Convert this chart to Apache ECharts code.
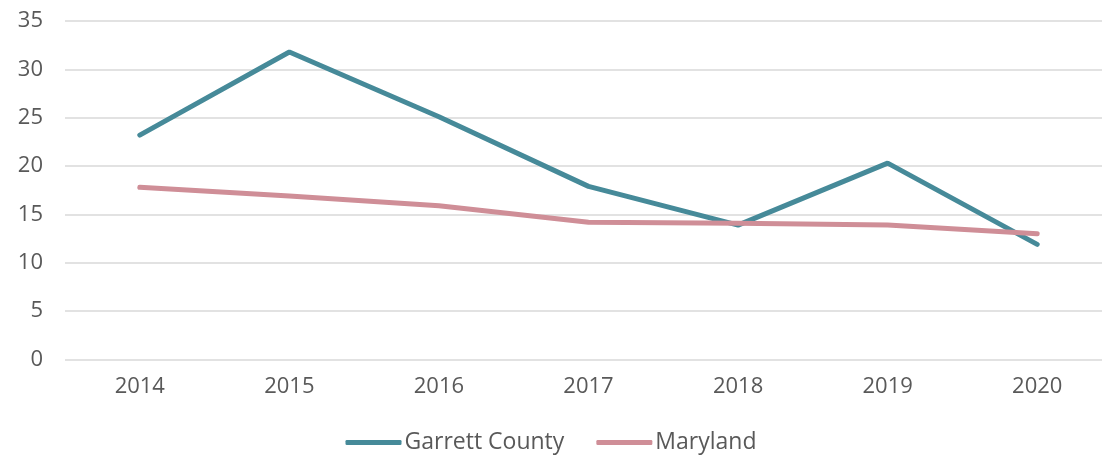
<!DOCTYPE html>
<html>
<head>
<meta charset="utf-8">
<script src="https://cdn.jsdelivr.net/npm/echarts@6/dist/echarts.min.js"></script>
<style>
  html, body { margin: 0; padding: 0; background: #fff; overflow: hidden; }
  #chart { width: 1102px; height: 456px; }
</style>
</head>
<body>
<div id="chart"></div>
<script>
// Garrett County vs Maryland, 2014–2020
const years = ['2014', '2015', '2016', '2017', '2018', '2019', '2020'];
const garrett = [23.2, 31.8, 25.1, 17.9, 13.9, 20.3, 11.9];
const maryland = [17.8, 16.9, 15.9, 14.2, 14.1, 13.9, 13.0];

const FONT = '"Open Sans", "Noto Sans", sans-serif';
const TEXT = '#595959';

const chart = echarts.init(document.getElementById('chart'));

chart.setOption({
  animation: false,
  grid: {
    left: 65, width: 1047, top: 21, height: 338.5,
    containLabel: false, outerBoundsMode: 'none',
  },
  legend: {
    bottom: -3,
    left: 'center',
    itemWidth: 56,
    itemHeight: 5,
    itemGap: 32,
    icon: 'roundRect',
    textStyle: { color: TEXT, fontFamily: FONT, fontSize: 23, padding: [0, 0, 0, -2] },
    data: ['Garrett County', 'Maryland'],
  },
  xAxis: {
    type: 'category',
    data: years,
    boundaryGap: true,
    axisLine: { show: false },
    axisTick: { show: false },
    axisLabel: { color: TEXT, fontFamily: FONT, fontSize: 22, margin: 16 },
  },
  yAxis: {
    type: 'value',
    min: 0, max: 35, interval: 5,
    axisLine: { show: false },
    axisTick: { show: false },
    splitLine: { lineStyle: { color: '#d9d9d9', width: 1.5 } },
    axisLabel: { color: TEXT, fontFamily: FONT, fontSize: 22, margin: 22 },
  },
  series: [
    {
      name: 'Garrett County', type: 'line', data: garrett,
      symbol: 'none', color: '#468a99',
      lineStyle: { width: 5, color: '#468a99', cap: 'round' },
    },
    {
      name: 'Maryland', type: 'line', data: maryland,
      symbol: 'none', color: '#cf8e97',
      lineStyle: { width: 5, color: '#cf8e97', cap: 'round' },
    },
  ],
});
</script>
</body>
</html>
